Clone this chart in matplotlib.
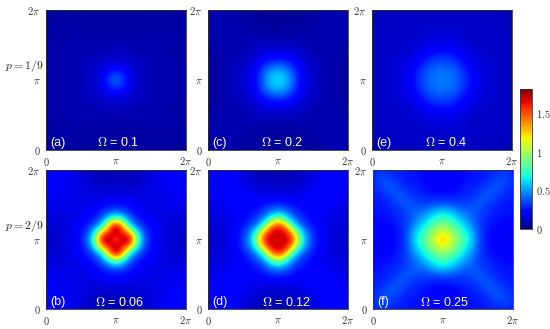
"""Six intensity maps over (0, 2pi)^2, two rows of p, one shared jet colorbar."""

import numpy as np
import matplotlib

matplotlib.use("Agg")
import matplotlib.pyplot as plt

W, H = 550, 329
VMAX = 1.81
TICK_COLOR = "#333333"

# Upper-right quadrant of each map.
# Rows go from the centre to the top edge, columns from the centre to the right edge.
panel_a = [
    [.42, .33, .18, .12, .10, .09, .08, .08, .07, .07, .07],
    [.33, .28, .17, .12, .10, .09, .08, .08, .07, .07, .07],
    [.18, .17, .14, .11, .10, .09, .08, .08, .07, .07, .07],
    [.12, .12, .11, .10, .09, .09, .08, .08, .07, .07, .07],
    [.10, .10, .10, .09, .09, .08, .08, .07, .07, .07, .07],
    [.08, .08, .08, .08, .08, .08, .08, .07, .07, .07, .06],
    [.07, .07, .07, .07, .07, .07, .07, .07, .07, .06, .06],
    [.06, .06, .06, .06, .06, .07, .07, .07, .07, .06, .06],
    [.06, .06, .06, .06, .06, .06, .06, .07, .07, .06, .06],
    [.05, .05, .05, .06, .06, .06, .06, .06, .06, .06, .06],
    [.05, .05, .05, .05, .05, .05, .05, .05, .05, .05, .06],
]
panel_c = [
    [.63, .58, .42, .26, .16, .12, .10, .08, .07, .06, .06],
    [.58, .54, .40, .25, .16, .12, .10, .08, .07, .06, .06],
    [.42, .40, .31, .21, .15, .11, .09, .08, .07, .06, .06],
    [.26, .25, .21, .16, .12, .10, .09, .08, .07, .06, .06],
    [.16, .16, .15, .12, .10, .09, .08, .08, .07, .07, .06],
    [.11, .11, .11, .10, .09, .08, .08, .08, .08, .07, .07],
    [.08, .08, .08, .08, .08, .08, .08, .08, .08, .07, .07],
    [.06, .06, .06, .07, .07, .07, .08, .08, .08, .08, .07],
    [.05, .05, .05, .06, .06, .07, .07, .08, .08, .08, .08],
    [.04, .04, .05, .05, .05, .06, .07, .07, .08, .08, .08],
    [.04, .04, .04, .04, .05, .05, .06, .07, .07, .08, .08],
]
panel_e = [
    [.45, .44, .40, .33, .25, .18, .15, .13, .12, .11, .10],
    [.44, .43, .38, .32, .24, .18, .15, .13, .12, .11, .10],
    [.40, .38, .35, .28, .21, .17, .14, .13, .12, .11, .10],
    [.33, .32, .28, .23, .18, .15, .13, .12, .12, .11, .10],
    [.25, .24, .21, .18, .15, .13, .12, .12, .12, .11, .10],
    [.18, .18, .17, .15, .13, .12, .12, .12, .12, .11, .10],
    [.15, .15, .14, .13, .12, .12, .12, .12, .12, .11, .10],
    [.13, .13, .13, .12, .12, .12, .12, .12, .11, .11, .10],
    [.12, .12, .12, .12, .12, .12, .12, .11, .11, .11, .10],
    [.11, .11, .11, .11, .11, .11, .11, .11, .11, .10, .09],
    [.10, .10, .10, .10, .10, .10, .10, .10, .10, .09, .07],
]
panel_b = [
    [1.45, 1.77, 1.76, .92, .42, .26, .19, .15, .13, .12, .12],
    [1.77, 1.60, 1.32, .70, .36, .25, .19, .15, .13, .12, .13],
    [1.76, 1.32, .64, .40, .29, .22, .18, .15, .14, .14, .14],
    [.92, .70, .40, .29, .23, .19, .17, .16, .15, .15, .15],
    [.42, .36, .29, .23, .19, .17, .16, .16, .16, .16, .17],
    [.26, .25, .22, .19, .17, .16, .16, .17, .17, .18, .18],
    [.18, .18, .17, .16, .16, .16, .17, .17, .18, .19, .20],
    [.14, .14, .14, .14, .15, .16, .17, .18, .19, .20, .21],
    [.11, .11, .11, .12, .14, .15, .17, .18, .20, .21, .22],
    [.09, .09, .10, .11, .13, .15, .17, .19, .21, .22, .23],
    [.08, .08, .09, .11, .12, .14, .17, .19, .21, .23, .24],
]
panel_d = [
    [1.58, 1.74, 1.58, 1.00, .52, .32, .22, .17, .14, .13, .13],
    [1.74, 1.68, 1.36, .78, .46, .30, .22, .17, .14, .13, .13],
    [1.58, 1.36, .80, .48, .34, .26, .20, .17, .15, .14, .14],
    [1.00, .78, .48, .34, .27, .22, .19, .17, .16, .15, .15],
    [.52, .46, .34, .27, .24, .22, .20, .18, .17, .16, .16],
    [.30, .29, .26, .22, .22, .24, .22, .20, .18, .17, .17],
    [.20, .20, .19, .19, .20, .22, .24, .22, .20, .19, .18],
    [.14, .14, .15, .16, .17, .20, .22, .24, .22, .20, .19],
    [.11, .11, .12, .13, .15, .17, .20, .22, .24, .22, .21],
    [.09, .09, .10, .11, .13, .16, .18, .20, .22, .24, .23],
    [.07, .08, .09, .10, .13, .15, .18, .19, .21, .23, .24],
]
panel_f = [
    [1.34, 1.12, .94, .78, .62, .40, .28, .23, .20, .19, .19],
    [1.12, 1.04, .88, .72, .58, .38, .28, .23, .20, .19, .19],
    [.94, .88, .76, .62, .50, .36, .29, .25, .22, .21, .21],
    [.78, .72, .62, .52, .43, .34, .30, .27, .25, .24, .24],
    [.62, .58, .50, .43, .40, .36, .32, .29, .27, .26, .26],
    [.40, .38, .36, .34, .36, .39, .35, .31, .28, .26, .26],
    [.28, .28, .29, .30, .32, .35, .39, .35, .31, .28, .27],
    [.23, .23, .25, .27, .29, .31, .35, .39, .35, .31, .28],
    [.20, .20, .22, .25, .27, .28, .31, .35, .38, .34, .29],
    [.19, .19, .21, .24, .26, .26, .28, .31, .34, .35, .31],
    [.19, .19, .21, .24, .26, .26, .27, .28, .29, .31, .26],
]

letters = ["(a)", "(c)", "(e)", "(b)", "(d)", "(f)"]
omegas = ["0.1", "0.2", "0.4", "0.06", "0.12", "0.25"]
row_labels = ["$p = 1/9$", "$p = 2/9$"]
cbar_ticks = [0, 0.5, 1, 1.5]
cbar_labels = ["$0$", "$0.5$", "$1$", "$1.5$"]

plt.rcParams["mathtext.fontset"] = "cm"
plt.rcParams["font.family"] = ["Liberation Sans", "DejaVu Sans"]


def px_axes(fig, left, top, right, bottom):
    """Add axes placed by pixel edges measured from the top-left corner."""
    return fig.add_axes([left / W, 1 - bottom / H, (right - left) / W, (bottom - top) / H])


def full_map(quadrant):
    q = np.array(quadrant)
    upper = np.hstack([q[:, :0:-1], q])
    return np.vstack([upper[:0:-1], upper])


def draw_panel(ax, quadrant, letter, omega, omega_x):
    z = full_map(quadrant)
    half = np.pi / (z.shape[0] - 1)
    im = ax.imshow(
        z, cmap="jet", vmin=0, vmax=VMAX, origin="lower", interpolation="bicubic",
        extent=(-half, 2 * np.pi + half, -half, 2 * np.pi + half),
    )
    ax.set_xlim(0, 2 * np.pi)
    ax.set_ylim(0, 2 * np.pi)
    ax.set_aspect("auto")
    ax.set_xticks([0, np.pi, 2 * np.pi], ["$0$", r"$\pi$", r"$2\pi$"])
    ax.set_yticks([0, np.pi, 2 * np.pi], ["$0$", r"$\pi$", r"$2\pi$"])
    ax.tick_params(length=0, labelsize=7.5, colors=TICK_COLOR, pad=4)
    for spine in ax.spines.values():
        spine.set_linewidth(0.6)
        spine.set_color(TICK_COLOR)
    ax.text(0.03, 0.05, letter, transform=ax.transAxes, color="white", fontsize=9, va="center")
    ax.text(omega_x, 0.05, rf"$\Omega$ = {omega}", transform=ax.transAxes, color="white",
            fontsize=9, va="center", ha="center")
    return im


fig = plt.figure(figsize=(W / 100, H / 100), dpi=100)

positions = [
    (46, 10, 186, 150), (208, 10, 348, 150), (372, 10, 512, 150),
    (46, 170, 186, 309), (208, 170, 348, 309), (373, 170, 513, 309),
]
omega_centres = [118, 282, 446, 120, 287, 445]
panels = [panel_a, panel_c, panel_e, panel_b, panel_d, panel_f]
for pos, quadrant, letter, omega, cx in zip(positions, panels, letters, omegas, omega_centres):
    omega_x = (cx - pos[0]) / (pos[2] - pos[0])
    im = draw_panel(px_axes(fig, *pos), quadrant, letter, omega, omega_x)

fig.text(24 / W, 1 - 66 / H, row_labels[0], ha="center", va="center", fontsize=8.5, color="#222222")
fig.text(24 / W, 1 - 226 / H, row_labels[1], ha="center", va="center", fontsize=8.5, color="#222222")

cax = px_axes(fig, 520, 89, 532, 229)
cbar = fig.colorbar(im, cax=cax)
cbar.set_ticks(cbar_ticks, labels=cbar_labels)
cbar.ax.tick_params(length=0, labelsize=7.5, colors=TICK_COLOR, pad=3)
cbar.outline.set_linewidth(0.6)
cbar.outline.set_edgecolor(TICK_COLOR)

fig.savefig("out.png", dpi=100)
